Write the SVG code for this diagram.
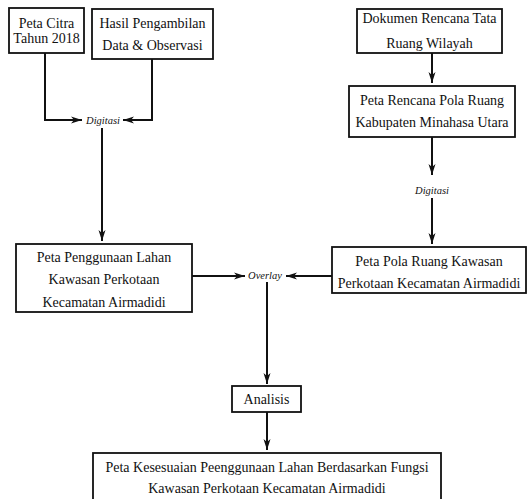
<svg xmlns="http://www.w3.org/2000/svg" width="527" height="499" viewBox="0 0 527 499">
<style>
.box{fill:#fff;stroke:#111;stroke-width:1.8}
.t{font-size:14px;fill:#111;text-anchor:middle}
.i{font-size:10.5px;font-style:italic;fill:#111;text-anchor:middle}
.c{fill:none;stroke:#111;stroke-width:2}
</style>
<defs>
<marker id="ah" markerWidth="12" markerHeight="8" refX="11" refY="4" orient="auto" markerUnits="userSpaceOnUse">
<path d="M0,0.5 L11,4 L0,7.5 L3,4 Z" fill="#111"/>
</marker>
</defs>
<rect width="527" height="499" fill="#fff"/>
<g font-family="'Liberation Serif', 'DejaVu Serif', serif">
<g id="connectors">
<path class="c" d="M45,53 V120 H82" marker-end="url(#ah)"/>
<path class="c" d="M152,59 V120 H123" marker-end="url(#ah)"/>
<path class="c" d="M102,128 V241" marker-end="url(#ah)"/>
<path class="c" d="M432,53 V83" marker-end="url(#ah)"/>
<path class="c" d="M432,137 V175" marker-end="url(#ah)"/>
<path class="c" d="M432,198 V244" marker-end="url(#ah)"/>
<path class="c" d="M192,276 H245" marker-end="url(#ah)"/>
<path class="c" d="M332,276 H286" marker-end="url(#ah)"/>
<path class="c" d="M267,282 V384" marker-end="url(#ah)"/>
<path class="c" d="M267,412 V450" marker-end="url(#ah)"/>
<text class="i" x="103" y="124">Digitasi</text>
<text class="i" x="432" y="194">Digitasi</text>
<text class="i" x="265" y="279">Overlay</text>
</g>
<g id="n1"><rect class="box" x="9" y="8" width="75" height="45"/>
<text class="t" x="46.5" y="28">Peta Citra</text><text class="t" x="46.5" y="43">Tahun 2018</text></g>
<g id="n2"><rect class="box" x="92" y="9" width="121" height="50"/>
<text class="t" x="152.5" y="28">Hasil Pengambilan</text><text class="t" x="152.5" y="50">Data &amp; Observasi</text></g>
<g id="n3"><rect class="box" x="357" y="9" width="145" height="44"/>
<text class="t" x="429.5" y="23">Dokumen Rencana Tata</text><text class="t" x="429.5" y="48">Ruang Wilayah</text></g>
<g id="n4"><rect class="box" x="349" y="86" width="166" height="51"/>
<text class="t" x="432" y="105">Peta Rencana Pola Ruang</text><text class="t" x="432" y="127">Kabupaten Minahasa Utara</text></g>
<g id="n5"><rect class="box" x="16" y="244" width="176" height="68"/>
<text class="t" x="104" y="262">Peta Penggunaan Lahan</text><text class="t" x="104" y="284">Kawasan Perkotaan</text><text class="t" x="104" y="307">Kecamatan Airmadidi</text></g>
<g id="n6"><rect class="box" x="332" y="247" width="194" height="46"/>
<text class="t" x="429" y="266">Peta Pola Ruang Kawasan</text><text class="t" x="429" y="288">Perkotaan Kecamatan Airmadidi</text></g>
<g id="n7"><rect class="box" x="232" y="386" width="69" height="26"/>
<text class="t" x="266.5" y="404">Analisis</text></g>
<g id="n8"><rect class="box" x="93" y="453" width="348" height="50"/>
<text class="t" x="267" y="472">Peta Kesesuaian Peenggunaan Lahan Berdasarkan Fungsi</text><text class="t" x="267" y="493">Kawasan Perkotaan Kecamatan Airmadidi</text></g>
</g>
</svg>
